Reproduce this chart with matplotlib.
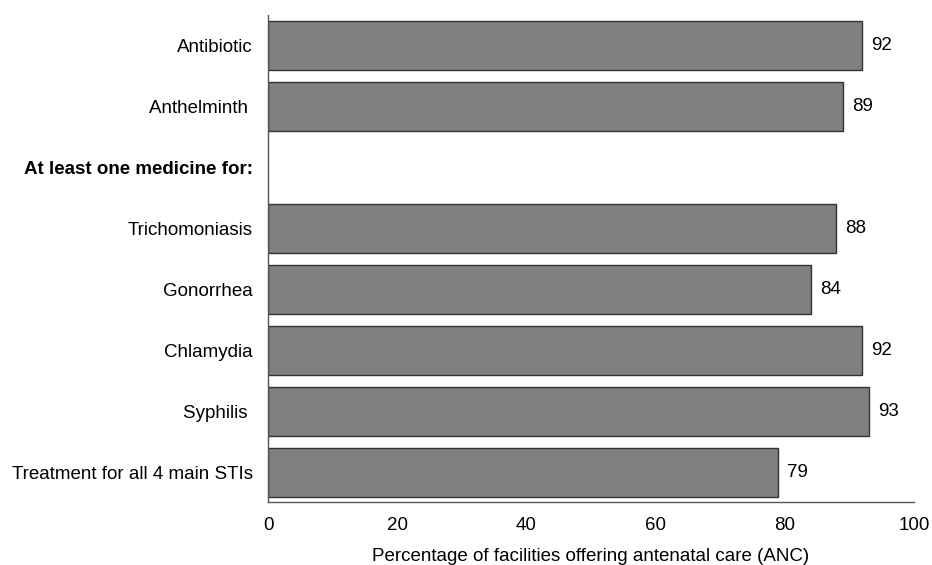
import matplotlib
matplotlib.use("Agg")
import matplotlib.pyplot as plt

plt.rcParams['font.family'] = ['Liberation Sans', 'DejaVu Sans']

labels = ["Antibiotic", "Anthelminth ", "At least one medicine for:",
          "Trichomoniasis", "Gonorrhea", "Chlamydia", "Syphilis ",
          "Treatment for all 4 main STIs"]
values = [92, 89, None, 88, 84, 92, 93, 79]
header_index = 2
xticks = [0, 20, 40, 60, 80, 100]
xlabel = "Percentage of facilities offering antenatal care (ANC)"

FS = 13.5

fig = plt.figure(figsize=(9.32, 5.65), dpi=100)
ax = fig.add_axes([0.2876, 0.1115, 0.9807 - 0.2876, 0.9735 - 0.1115])

positions = list(range(len(labels)))
for pos, val in zip(positions, values):
    if val is None:
        continue
    ax.barh(pos, val, height=0.8, color="#808080", edgecolor="#333333", linewidth=1.0)
    ax.text(val + 1.4, pos, f"{val}", va="center", ha="left", fontsize=FS, color="#000000")

ax.set_yticks(positions)
ax.set_yticklabels(labels, fontsize=FS)
ax.get_yticklabels()[header_index].set_fontweight("bold")
ax.set_ylim(len(labels) - 1 + 0.48, -0.5)
ax.set_xlim(0, 100)
ax.set_xticks(xticks)
ax.set_xticklabels([str(t) for t in xticks], fontsize=FS)
ax.tick_params(axis="both", length=0)
ax.tick_params(axis="y", pad=11)
ax.tick_params(axis="x", pad=11)
ax.set_xlabel(xlabel, fontsize=FS, labelpad=10)

for side in ("top", "right"):
    ax.spines[side].set_visible(False)
for side in ("left", "bottom"):
    ax.spines[side].set_color("#555555")
    ax.spines[side].set_linewidth(1.0)

fig.savefig("out.png", dpi=100)
